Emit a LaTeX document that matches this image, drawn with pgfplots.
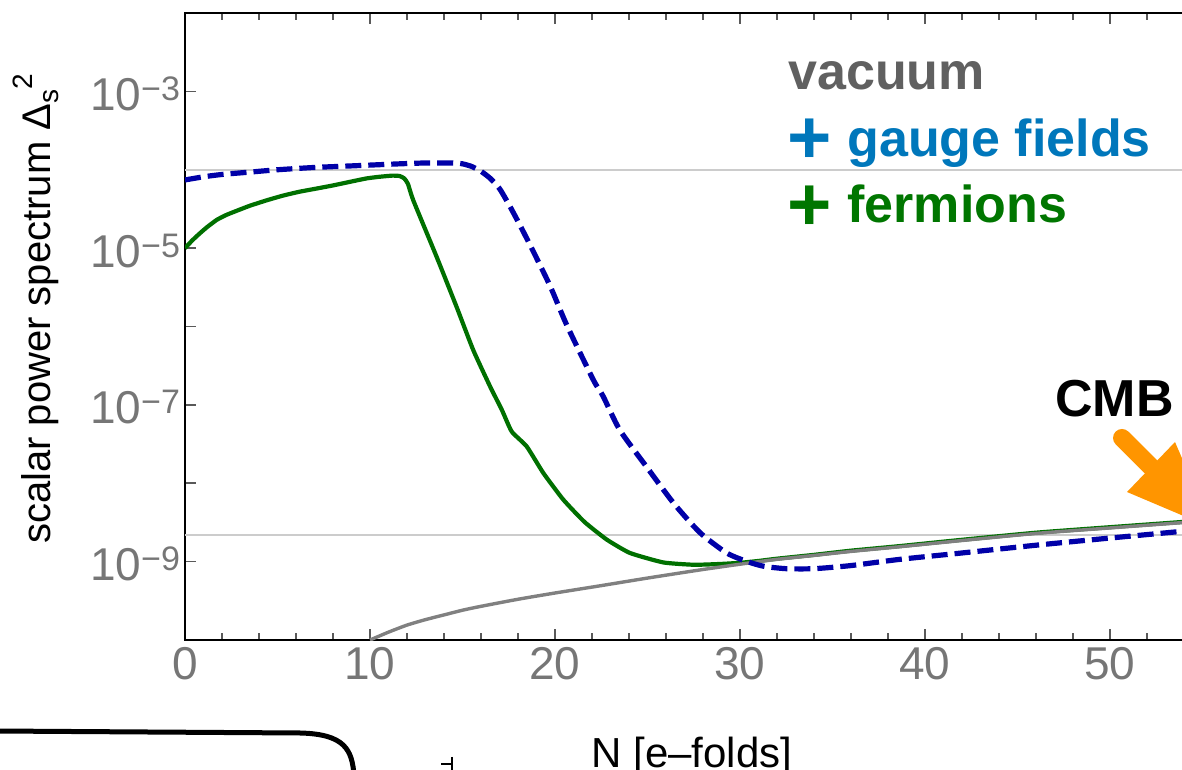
\documentclass[border=0pt]{standalone}
\usepackage{pgfplots}
\pgfplotsset{compat=1.18}
\usepackage{fontspec}
\setmainfont{Liberation Sans}
\definecolor{gfblue}{RGB}{0,119,187}
\definecolor{fgreen}{RGB}{0,118,0}
\definecolor{cgreen}{RGB}{0,112,0}
\definecolor{cblue}{RGB}{0,0,168}
\definecolor{cgray}{RGB}{128,128,128}
\definecolor{vacgray}{RGB}{96,96,96}
\definecolor{tickgray}{RGB}{118,118,118}
\definecolor{lgray}{RGB}{204,204,204}
\definecolor{corange}{RGB}{255,149,0}
\newcommand\ylab[1]{10\raisebox{5pt}{\fontsize{17}{17}\selectfont −#1}}
\begin{document}
\begin{tikzpicture}
\useasboundingbox (0,0) rectangle (591pt,385pt);
\clip (0,0) rectangle (591pt,385pt);
\begin{axis}[
  at={(92.5pt,65pt)}, anchor=south west,
  scale only axis, width=555pt, height=313.5pt,
  xmin=0, xmax=60, ymin=1e-10, ymax=1e-2, ymode=log,
  xtick={0,10,20,30,40,50}, xticklabels={0,10,20,30,40,50},
  minor xtick={2,4,6,8,12,14,16,18,22,24,26,28,32,34,36,38,42,44,46,48,52,54,56,58},
  ytick={1e-10,1e-9,1e-8,1e-7,1e-6,1e-5,1e-4,1e-3,1e-2},
  yticklabels={{},{\ylab{9}},{},{\ylab{7}},{},{\ylab{5}},{},{\ylab{3}},{}},
  yminorticks=false,
  ytick pos=left,
  tick align=inside,
  major tick length=5.5pt, minor tick length=3.5pt,
  every tick/.style={black!65, line width=0.8pt},
  axis line style={line width=1.3pt},
  ticklabel style={font=\fontsize{23}{23}\selectfont, text=tickgray},
  yticklabel style={anchor=base east, yshift=-9.5pt, xshift=1pt},
]
\addplot[lgray, line width=1pt] coordinates {(0,1e-4) (62,1e-4)};
\addplot[lgray, line width=1pt] coordinates {(0,2.21e-9) (62,2.21e-9)};
% fermions
\addplot[cgreen, line width=2.1pt, line join=round, smooth, tension=0.3] coordinates {
(0,1.0e-5) (0.4,1.26e-5) (0.81,1.55e-5) (1.2,1.86e-5) (1.71,2.29e-5) (2.2,2.63e-5)
(2.61,2.88e-5) (3.5,3.47e-5) (4.41,4.07e-5) (5.3,4.68e-5) (6.2,5.25e-5) (7.1,5.75e-5)
(8,6.31e-5) (9,7.08e-5) (9.82,7.76e-5) (10.5,8.13e-5) (11.2,8.41e-5) (11.6,8.32e-5)
(11.85,7.76e-5) (12.05,6.61e-5)
(12.34,4.07e-5) (13.6,7.76e-6) (14.68,1.78e-6) (15.58,5.01e-7) (16.5,1.70e-7)
(17.12,8.71e-8) (17.66,4.57e-8) (18.47,2.95e-8) (19.37,1.35e-8) (20.45,6.17e-9)
(21.6,3.2e-9) (22.8,1.91e-9) (24.05,1.29e-9) (25.85,9.77e-10) (27.5,9.12e-10)
(28.9,9.33e-10) (30,9.66e-10) (31,1.02e-9) (32,1.09e-9) (34,1.22e-9) (36,1.38e-9)
(38.65,1.58e-9) (42,1.90e-9) (46,2.34e-9) (50,2.75e-9) (54,3.22e-9) (58,3.80e-9) (62,4.36e-9)
};
% vacuum
\addplot[cgray, line width=1.7pt, line join=round, smooth, tension=0.4] coordinates {
(10,1.0e-10) (11,1.26e-10) (12,1.55e-10) (13,1.82e-10) (14,2.09e-10) (15,2.40e-10)
(16,2.69e-10) (18,3.31e-10) (20,3.98e-10) (22.4,4.90e-10) (25,6.17e-10) (28,7.94e-10)
(30.4,9.55e-10) (32,1.07e-9) (34,1.20e-9) (36,1.35e-9) (38.65,1.55e-9) (42,1.86e-9)
(46,2.29e-9) (50,2.69e-9) (54,3.16e-9) (58,3.72e-9) (62,4.27e-9)
};
% gauge fields
\addplot[cblue, line width=2.6pt, dash pattern=on 8pt off 3.5pt, line join=round, smooth, tension=0.4] coordinates {
(0,7.41e-5) (1,8.13e-5) (2,8.71e-5) (3.5,9.33e-5) (5,1.0e-4) (7,1.07e-4) (9,1.12e-4)
(11.6,1.19e-4) (13,1.22e-4) (14.5,1.22e-4) (15,1.19e-4) (15.5,1.10e-4) (16,9.55e-5)
(16.5,7.76e-5) (17,5.75e-5) (17.5,3.63e-5) (18,2.19e-5) (18.65,1.10e-5) (19.73,3.31e-6)
(20.63,1.05e-6) (22.07,2.09e-7) (22.6,1.29e-7) (23.5,4.79e-8) (24.95,1.62e-8) (26.4,5.62e-9)
(27.84,2.34e-9) (29.28,1.29e-9) (30.4,1.0e-9) (31.3,8.71e-10) (32.5,8.13e-10)
(34,8.13e-10) (36,8.91e-10) (38.65,1.07e-9) (42,1.29e-9) (46,1.62e-9) (50,2.0e-9)
(54,2.45e-9) (58,3.02e-9) (62,3.72e-9)
};
\end{axis}
\begin{scope}[x=0.5pt,y=0.5pt]
% y label
\node[rotate=90, font=\fontsize{20}{20}\selectfont, anchor=base] at (50,461)
  {scalar power spectrum Δ\raisebox{-4pt}{\fontsize{14}{14}\selectfont s}\raisebox{8.5pt}{\fontsize{14}{14}\selectfont 2}};
% x label
\node[font=\fontsize{21}{21}\selectfont, anchor=base] at (692,2) {N [e–folds]};
% legend
\node[font=\fontsize{26}{26}\selectfont\bfseries, text=vacgray, anchor=base west, inner sep=0] at (788,680) {vacuum};
\node[font=\fontsize{38}{38}\selectfont\bfseries, text=gfblue, inner sep=0] at (810,628.5) {+};
\node[font=\fontsize{26}{26}\selectfont\bfseries, text=gfblue, anchor=base west, inner sep=0] at (847,613) {gauge fields};
\node[font=\fontsize{38}{38}\selectfont\bfseries, text=fgreen, inner sep=0] at (810,561.5) {+};
\node[font=\fontsize{26}{26}\selectfont\bfseries, text=fgreen, anchor=base west, inner sep=0] at (847,547.5) {fermions};
% CMB
\node[font=\fontsize{26}{26}\selectfont\bfseries, anchor=base west, inner sep=0] at (1055,353.5) {CMB};
\draw[corange, line width=9pt, line cap=round] (1122,332) -- (1154,300);
\fill[corange] (1127,278) -- (1175,328) -- (1212,242) -- cycle;
% cropped hand-drawn frame
\draw[line width=2.5pt, line cap=round] (-5,39) -- (300,37) .. controls (345,36) and (352,20) .. (354,-5);
\draw[line width=0.9pt] (452,13) -- (452,-2);
\draw[line width=0.9pt] (441,6) -- (452,6);
\end{scope}
\end{tikzpicture}
\end{document}
